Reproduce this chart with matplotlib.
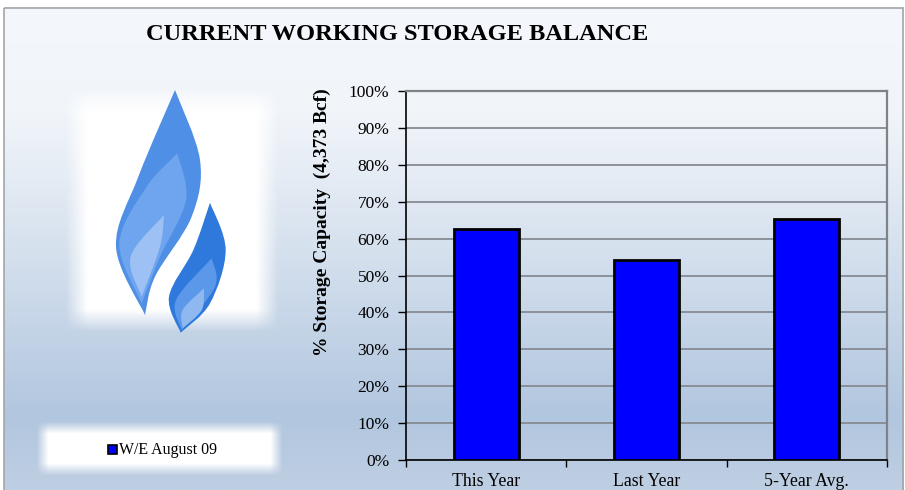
import numpy as np
import matplotlib
matplotlib.use("Agg")
import matplotlib.pyplot as plt
from matplotlib.colors import LinearSegmentedColormap
from matplotlib.patches import PathPatch, Rectangle
from matplotlib.path import Path
from matplotlib.ticker import FuncFormatter, MultipleLocator

# values
categories = ["This Year", "Last Year", "5-Year Avg."]
storage_pct = [62.5, 54.2, 65.2]
legend_label = "W/E August 09"
title = "CURRENT WORKING STORAGE BALANCE"
ylabel = "% Storage Capacity  (4,373 Bcf)"

W, H = 905, 490
plt.rcParams["font.family"] = ["Liberation Serif", "DejaVu Serif"]

fig = plt.figure(figsize=(W / 100, H / 100), dpi=100, facecolor="white")

# background layer in pixel coordinates
bg = fig.add_axes([0, 0, 1, 1], zorder=0)
bg.axis("off")

grad = LinearSegmentedColormap.from_list(
    "bg", [(0, "#f4f8fc"), (0.22, "#f1f5fa"), (0.5, "#d6e1ee"), (0.85, "#b1c6df"), (1, "#bfcfe3")]
)
bg.imshow(np.linspace(0, 1, 256).reshape(-1, 1), cmap=grad, aspect="auto",
          extent=(4, 903, H, 8), zorder=0)
bg.add_patch(Rectangle((4, 8), 899, H, fill=False, ec="#a3a5a8", lw=1.2, zorder=1))


def soft_box(x0, y0, x1, y1, blur):
    # white rectangle with feathered edges
    xs = np.arange(x0 - blur, x1 + blur)
    ys = np.arange(y0 - blur, y1 + blur)
    ax_ = np.clip((xs - x0 + blur) / (2 * blur), 0, 1) * np.clip((x1 + blur - xs) / (2 * blur), 0, 1)
    ay_ = np.clip((ys - y0 + blur) / (2 * blur), 0, 1) * np.clip((y1 + blur - ys) / (2 * blur), 0, 1)
    rgba = np.ones((len(ys), len(xs), 4))
    rgba[..., 3] = np.outer(ay_, ax_)
    bg.imshow(rgba, aspect="auto", extent=(x0 - blur, x1 + blur, y1 + blur, y0 - blur), zorder=2)


soft_box(76, 100, 266, 320, 11)
soft_box(42, 427, 275, 469, 6)
bg.set_xlim(0, W)
bg.set_ylim(H, 0)


def smooth_side(pts):
    # bezier handles through the outline points, sharp at both ends
    pts = np.array(pts, dtype=float)
    out = []
    for i in range(len(pts) - 1):
        before = pts[max(i - 1, 0)]
        after = pts[min(i + 2, len(pts) - 1)]
        out += [pts[i] + (pts[i + 1] - before) / 6, pts[i + 1] - (after - pts[i]) / 6, pts[i + 1]]
    return out


def flame(right, left, color, z):
    # outlines are given in a 3x logo grid whose origin is at pixel (60, 80)
    verts = [np.array(right[0], dtype=float)] + smooth_side(right) + smooth_side(left)
    verts = [(60 + v[0] / 3, 80 + v[1] / 3) for v in verts]
    codes = [Path.MOVETO] + [Path.CURVE4] * (len(verts) - 1)
    bg.add_patch(PathPatch(Path(verts, codes), fc=color, ec="none", zorder=z))


# large flame
flame([(345, 30), (420, 240), (395, 410), (285, 590), (255, 705)],
      [(255, 705), (168, 500), (235, 290), (345, 30)],
      "#4f8fe6", 3)
flame([(352, 220), (378, 360), (300, 530), (245, 670)],
      [(245, 670), (178, 490), (260, 320), (352, 220)],
      "#6fa5ee", 4)
flame([(312, 405), (300, 500), (245, 650)],
      [(245, 650), (212, 530), (312, 405)],
      "#9dc1f4", 5)
# small flame
flame([(450, 368), (497, 510), (450, 670), (362, 758)],
      [(362, 758), (327, 650), (400, 510), (450, 368)],
      "#2f79dd", 3)
flame([(455, 535), (465, 620), (365, 750)],
      [(365, 750), (348, 660), (455, 535)],
      "#5c98ea", 4)
flame([(432, 625), (425, 690), (368, 745)],
      [(368, 745), (368, 690), (432, 625)],
      "#8fb8f1", 5)

# bar chart
ax = fig.add_axes([406 / W, 1 - 460 / H, (887 - 406) / W, (460 - 91) / H], zorder=2)
ax.patch.set_alpha(0)
x = np.arange(len(categories))
ax.bar(x, storage_pct, width=0.405, color="#0000ff", edgecolor="black", linewidth=2, zorder=3)
ax.set_xlim(-0.5, 2.5)
ax.set_ylim(0, 100)
ax.yaxis.set_major_locator(MultipleLocator(10))
ax.yaxis.set_major_formatter(FuncFormatter(lambda v, _: f"{v:.0f}%"))
ax.grid(axis="y", color="#868b93", lw=1.3, zorder=1)
ax.set_axisbelow(True)
ax.set_xticks([-0.5, 0.5, 1.5, 2.5])
ax.set_xticklabels([])
ax.set_xticks(x, minor=True)
ax.set_xticklabels(categories, minor=True)
ax.tick_params(axis="x", which="minor", length=0, pad=9.5, labelsize=12.8)
ax.tick_params(axis="x", which="major", length=5, width=1, color="black")
ax.tick_params(axis="y", length=6, width=1, color="black", labelsize=12.5, pad=6)
for side in ["left", "bottom"]:
    ax.spines[side].set_color("black")
    ax.spines[side].set_linewidth(1.2)
for side in ["top", "right"]:
    ax.spines[side].set_color("#7f8388")
    ax.spines[side].set_linewidth(1.6)

# text and legend sit in the pixel layer
top = fig.add_axes([0, 0, 1, 1], zorder=3)
top.set_xlim(0, W)
top.set_ylim(H, 0)
top.axis("off")
top.text(397, 35, title, ha="center", va="center", fontsize=17.6, fontweight="bold", color="black")
top.text(322, 222, ylabel, ha="center", va="center", rotation=90, fontsize=14, fontweight="bold")
top.add_patch(Rectangle((107.5, 445), 9, 9, fc="#0000ff", ec="black", lw=1.2))
top.text(119, 449.5, legend_label, ha="left", va="center", fontsize=11.4)

fig.savefig("out.png", dpi=100, facecolor="white")
